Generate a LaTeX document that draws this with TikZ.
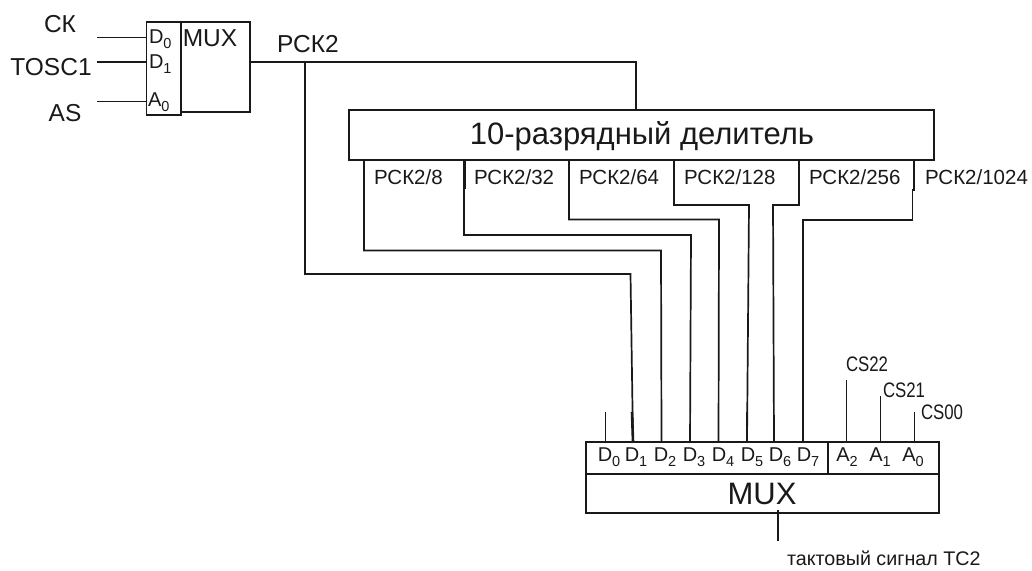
\documentclass[tikz,border=0pt]{standalone}
\usepackage{fontspec}
\setmainfont{Liberation Sans}
\newcommand{\idx}[2]{#1\raisebox{-0.28em}{\fontsize{14.5}{15}\selectfont #2}}
\tikzset{
  x=1pt,y=-1pt,
  wire/.style={line width=1.7pt,line join=miter,color=black!90},
  block/.style={draw,line width=1.8pt,color=black!90,text=black,anchor=north west,inner sep=0pt,outer sep=0pt},
  lab/.style={inner sep=0pt,outer sep=0pt,font=\fontsize{24.5}{26}\selectfont,text=black!90},
  tap/.style={inner sep=0pt,outer sep=0pt,font=\fontsize{20.5}{22}\selectfont,text=black!90},
  pin/.style={inner sep=0pt,outer sep=0pt,font=\fontsize{20}{22}\selectfont,text=black!90},
  cs/.style={inner sep=0pt,outer sep=0pt,font=\fontsize{21}{23}\selectfont,xscale=0.8,text=black!90},
}
\begin{document}
\begin{tikzpicture}
\useasboundingbox (0,0) rectangle (1032,570);
% input multiplexer
\node[block,minimum width=34.5pt,minimum height=93pt] (inl) at (146.5,22) {};
\node[block,minimum width=69pt,minimum height=90pt] (inr) at (181,22) {};
\node[pin,anchor=west] (d0) at (149,39) {\idx{D}{0}};
\node[pin,anchor=west] (d1) at (149,64) {\idx{D}{1}};
\node[pin,anchor=west] (a0) at (148,102) {\idx{A}{0}};
\node[lab,anchor=center] (muxa) at (210,38) {MUX};
\node[lab,anchor=center] (ck) at (60,24) {СК};
\node[lab,anchor=center] (tosc) at (51,67) {TOSC1};
\node[lab,anchor=center] (as) at (65,113) {AS};
\node[lab,anchor=center] (pck) at (308,44) {РСК2};
\coordinate (ckw) at (97,37.5);
\coordinate (toscw) at (97,62);
\coordinate (asw) at (97,101.5);
\draw[wire] (ckw) -- (ckw -| inl.west);
\draw[wire] (toscw) -- (toscw -| inl.west);
\draw[wire] (asw) -- (asw -| inl.west);
% divider
\node[block,minimum width=585pt,minimum height=50pt] (div) at (349,110) {};
\node[inner sep=0pt,font=\fontsize{31}{33}\selectfont,text=black!90] (divt) at (642,136) {10-разрядный делитель};
\node[tap,anchor=west] (t8) at (374,177) {РСК2/8};
\node[tap,anchor=west] (t32) at (474,177) {РСК2/32};
\node[tap,anchor=west] (t64) at (579,177) {РСК2/64};
\node[tap,anchor=west] (t128) at (684,177) {РСК2/128};
\node[tap,anchor=west] (t256) at (809,177) {РСК2/256};
\node[tap,anchor=west] (t1024) at (925,177) {РСК2/1024};
% output multiplexer
\node[block,minimum width=353pt,minimum height=32pt] (top) at (586,442) {};
\node[block,minimum width=353pt,minimum height=39pt] (bot) at (586,474) {};
\coordinate (sep) at (828,442);
\draw[line width=1.8pt,color=black!90] (sep) -- (sep |- bot.north);
\node[inner sep=0pt,font=\fontsize{31}{33}\selectfont,text=black!90] (muxb) at (762,494) {MUX};
\node[pin] (p0) at (609,457) {\idx{D}{0}};
\node[pin] (p1) at (636,457) {\idx{D}{1}};
\node[pin] (p2) at (665,457) {\idx{D}{2}};
\node[pin] (p3) at (694,457) {\idx{D}{3}};
\node[pin] (p4) at (723,457) {\idx{D}{4}};
\node[pin] (p5) at (752,457) {\idx{D}{5}};
\node[pin] (p6) at (780,457) {\idx{D}{6}};
\node[pin] (p7) at (808,457) {\idx{D}{7}};
\node[pin] (pa2) at (847,457) {\idx{A}{2}};
\node[pin] (pa1) at (880,457) {\idx{A}{1}};
\node[pin] (pa0) at (913,457) {\idx{A}{0}};
\node[cs] (cs22) at (867,364) {CS22};
\node[cs] (cs21) at (904,390) {CS21};
\node[cs] (cs00) at (942,412) {CS00};
\node[inner sep=0pt,outer sep=0pt,anchor=west,font=\fontsize{19.7}{21}\selectfont,text=black!90] (clk) at (787,558.5) {тактовый сигнал TC2};
% junction points
\coordinate (j) at (305,62);
\coordinate (k1) at (636,62);
\coordinate (bend0) at (305,274);
\coordinate (bend1) at (630.5,274);
\coordinate (in1) at (633,442);
\coordinate (mid1) at (632,412);
\coordinate (s0) at (605.5,412);
% connectors
\draw[wire] (inr.east |- j) -- (k1) -- (k1 |- div.north);
\draw[wire] (j) -- (bend0) -- (bend1) -- (in1);
\draw[line width=2.6pt,color=black!90] (mid1) -- (in1);
\draw[wire] (s0) -- (s0 |- top.north);
\draw[wire] (364,160) |- (661,250.5) -- (661.5,442);
\draw[wire] (464,160) |- (691,235) -- (690,442);
\draw[line width=2.2pt,color=black!90] (464.5,160) -- (464.5,189);
\draw[wire] (569,160) |- (719,219.5) -- (718.5,442);
\draw[wire] (674,160) |- (749,205) -- (747,442);
\draw[line width=2.6pt,color=black!90] (747,412) -- (747,432);
\draw[wire] (799,160) |- (773,205) -- (774,442);
\draw[wire] (914,160) -- (914,190) -- (912.5,190) |- (803,220) -- (803,442);
\draw[wire] (846.5,380) -- (846.5,442);
\draw[wire] (880.5,396) -- (880.5,442);
\draw[wire] (914.5,412) -- (914.5,442);
\draw[wire] (778,510) -- (778,541);
\end{tikzpicture}
\end{document}
